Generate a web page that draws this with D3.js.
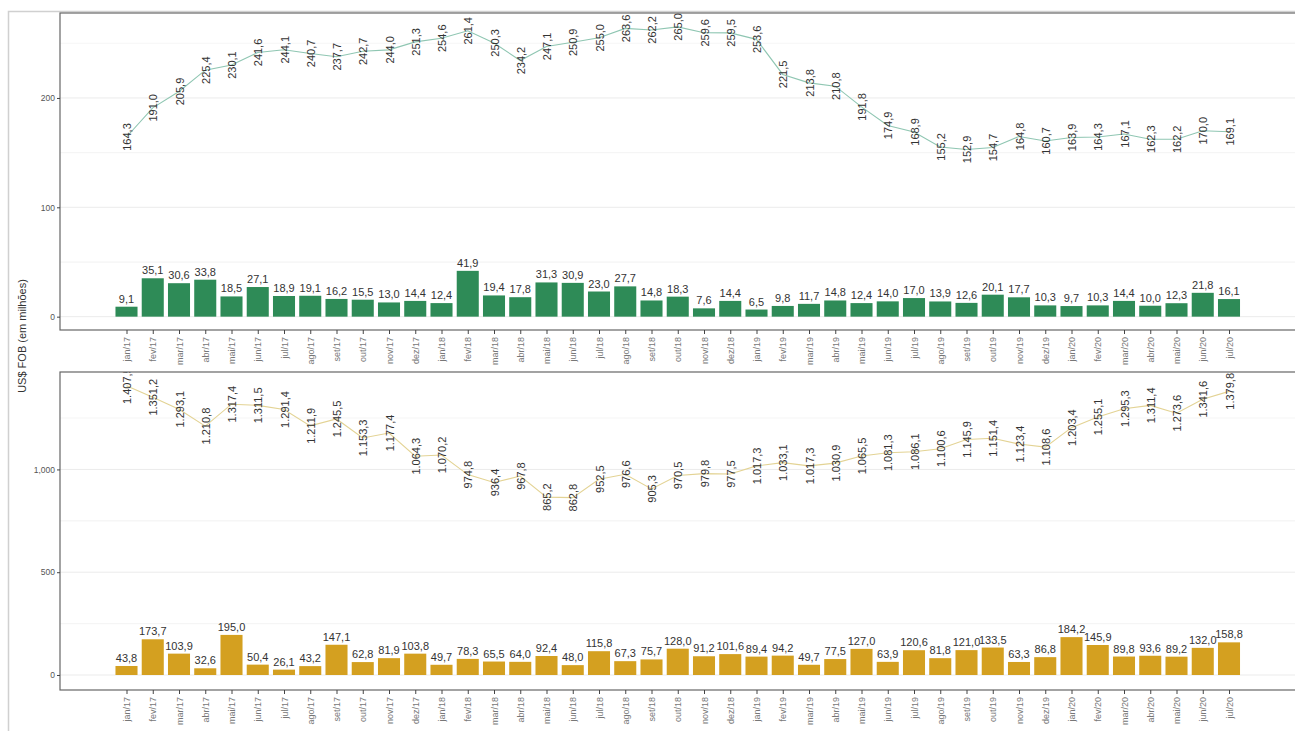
<!DOCTYPE html>
<html>
<head>
<meta charset="utf-8">
<script src="https://cdn.jsdelivr.net/npm/d3@7"></script>
<style>
  body { margin: 0; background: #fff; }
  svg { display: block; font-family: "Liberation Sans", Arial, sans-serif; }
</style>
</head>
<body>
<svg id="chart" width="1295" height="731"></svg>
<script>
const months = ["jan", "fev", "mar", "abr", "mai", "jun", "jul", "ago", "set", "out", "nov", "dez"];
const years = ["17", "18", "19", "20"];
const periods = [];
years.forEach(y => months.forEach(m => periods.push(m + "/" + y)));
periods.length = 43; // jan/17 .. jul/20

// painel superior
const topLine = [164.3, 191.0, 205.9, 225.4, 230.1, 241.6, 244.1, 240.7, 237.7, 242.7, 244.0, 251.3,
  254.6, 261.4, 250.3, 234.2, 247.1, 250.9, 255.0, 263.6, 262.2, 265.0, 259.6, 259.5,
  253.6, 221.5, 213.8, 210.8, 191.8, 174.9, 168.9, 155.2, 152.9, 154.7, 164.8, 160.7,
  163.9, 164.3, 167.1, 162.3, 162.2, 170.0, 169.1];
const topBars = [9.1, 35.1, 30.6, 33.8, 18.5, 27.1, 18.9, 19.1, 16.2, 15.5, 13.0, 14.4,
  12.4, 41.9, 19.4, 17.8, 31.3, 30.9, 23.0, 27.7, 14.8, 18.3, 7.6, 14.4,
  6.5, 9.8, 11.7, 14.8, 12.4, 14.0, 17.0, 13.9, 12.6, 20.1, 17.7, 10.3,
  9.7, 10.3, 14.4, 10.0, 12.3, 21.8, 16.1];
const topTicks = [0, 100, 200];

// painel inferior
const bottomLine = [1407.5, 1351.2, 1293.1, 1210.8, 1317.4, 1311.5, 1291.4, 1211.9, 1245.5, 1153.3, 1177.4, 1064.3,
  1070.2, 974.8, 936.4, 967.8, 865.2, 862.8, 952.5, 976.6, 905.3, 970.5, 979.8, 977.5,
  1017.3, 1033.1, 1017.3, 1030.9, 1065.5, 1081.3, 1086.1, 1100.6, 1145.9, 1151.4, 1123.4, 1108.6,
  1203.4, 1255.1, 1295.3, 1311.4, 1273.6, 1341.6, 1379.8];
const bottomBars = [43.8, 173.7, 103.9, 32.6, 195.0, 50.4, 26.1, 43.2, 147.1, 62.8, 81.9, 103.8,
  49.7, 78.3, 65.5, 64.0, 92.4, 48.0, 115.8, 67.3, 75.7, 128.0, 91.2, 101.6,
  89.4, 94.2, 49.7, 77.5, 127.0, 63.9, 120.6, 81.8, 121.0, 133.5, 63.3, 86.8,
  184.2, 145.9, 89.8, 93.6, 89.2, 132.0, 158.8];
const bottomTicks = [0, 500, 1000];

const svg = d3.select("#chart");
const ptBR = d3.formatLocale({ decimal: ",", thousands: ".", grouping: [3], currency: ["R$", ""] });
const fmtLabel = ptBR.format(",.1f");
const fmtTick = d3.format(",");

// moldura externa
svg.append("path")
  .attr("d", "M8.5,740 V11.5 H1300")
  .attr("fill", "none").attr("stroke", "#d0d0d0").attr("stroke-width", 1.5);

const x = d3.scalePoint().domain(periods).range([126.5, 1229]);
const barW = x.step() * 0.84;
const left = 60, right = 1296;

function panel(id, top, bottom, yDomain, bars, line, ticks, barColor, lineColor) {
  const y = d3.scaleLinear().domain(yDomain).range([bottom, top]);
  const g = svg.append("g");

  g.append("clipPath").attr("id", id)
    .append("rect").attr("x", left).attr("y", top).attr("width", right - left).attr("height", bottom - top);

  const minor = d3.range(0, yDomain[1], ticks[1] - ticks[0]).map(v => v + (ticks[1] - ticks[0]) / 2)
    .concat(ticks.map(v => v - (ticks[1] - ticks[0]) / 2)).filter(v => v > yDomain[0] && v < yDomain[1]);
  g.selectAll(".minor").data(minor).join("line")
    .attr("x1", left).attr("x2", right).attr("y1", d => y(d)).attr("y2", d => y(d))
    .attr("stroke", "#f4f4f4").attr("stroke-width", 0.8);
  g.selectAll(".major").data(ticks).join("line")
    .attr("x1", left).attr("x2", right).attr("y1", d => y(d)).attr("y2", d => y(d))
    .attr("stroke", "#ebebeb").attr("stroke-width", 1);

  const body = g.append("g").attr("clip-path", `url(#${id})`);

  body.selectAll("rect.bar").data(bars).join("rect")
    .attr("class", "bar")
    .attr("x", (d, i) => x(periods[i]) - barW / 2)
    .attr("width", barW)
    .attr("y", d => y(d))
    .attr("height", d => y(0) - y(d))
    .attr("fill", barColor);

  body.selectAll("text.barlab").data(bars).join("text")
    .attr("class", "barlab")
    .attr("x", (d, i) => x(periods[i]))
    .attr("y", d => y(d) - 4)
    .attr("text-anchor", "middle")
    .attr("font-size", 11).attr("fill", "#333")
    .text(d => fmtLabel(d));

  body.append("path")
    .datum(line)
    .attr("d", d3.line().x((d, i) => x(periods[i])).y(d => y(d)))
    .attr("fill", "none").attr("stroke", lineColor).attr("stroke-width", 1.1);

  body.selectAll("text.linelab").data(line).join("text")
    .attr("class", "linelab")
    .attr("transform", (d, i) => `translate(${x(periods[i]) + 0.5},${y(d)}) rotate(-90)`)
    .attr("text-anchor", "middle")
    .attr("dominant-baseline", "central")
    .attr("font-size", 11).attr("fill", "#333")
    .text(d => fmtLabel(d));

  // borda do painel
  g.append("rect")
    .attr("x", left).attr("y", top).attr("width", right - left).attr("height", bottom - top)
    .attr("fill", "none").attr("stroke", "#666").attr("stroke-width", 1.2);

  // eixo y
  const yAxis = g.append("g").attr("transform", `translate(${left},0)`)
    .call(d3.axisLeft(y).tickValues(ticks).tickSize(3).tickPadding(2).tickFormat(fmtTick));
  yAxis.select(".domain").remove();
  yAxis.selectAll("line").attr("stroke", "#444");
  yAxis.selectAll("text").attr("font-size", 8.5).attr("fill", "#555")
    .attr("font-family", "Liberation Sans, Arial, sans-serif");

  // eixo x
  const xAxis = g.append("g").attr("transform", `translate(0,${bottom})`)
    .call(d3.axisBottom(x).tickSize(4).tickPadding(3));
  xAxis.select(".domain").remove();
  xAxis.selectAll("line").attr("stroke", "#444");
  xAxis.selectAll("text")
    .attr("transform", "rotate(-90)")
    .attr("text-anchor", "end")
    .attr("x", -7).attr("y", 0).attr("dy", "0.35em")
    .attr("font-size", 9).attr("fill", "#777")
    .attr("font-family", "Liberation Sans, Arial, sans-serif");
}

panel("clipTop", 13, 330, [-12.2, 277.7], topBars, topLine, topTicks, "#2e8b57", "#8fc6b2");
panel("clipBottom", 372, 690, [-73, 1474], bottomBars, bottomLine, bottomTicks, "#d4a020", "#e3d394");

svg.append("text")
  .attr("transform", "translate(26,336) rotate(-90)")
  .attr("text-anchor", "middle")
  .attr("font-size", 11).attr("fill", "#333")
  .text("US$ FOB (em milhões)");
</script>
</body>
</html>
